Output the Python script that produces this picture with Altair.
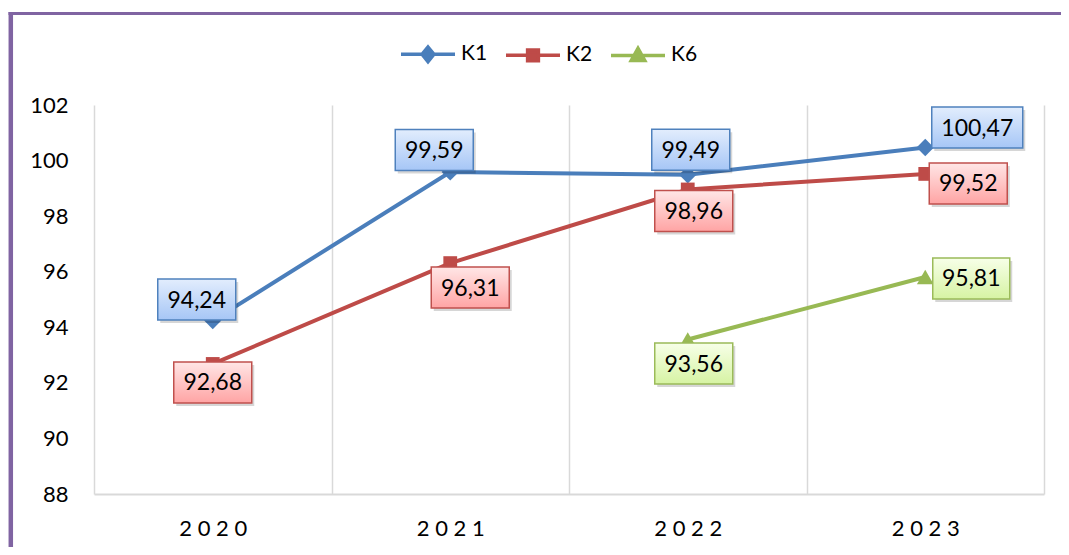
import altair as alt
import pandas as pd

# ---------------- data ----------------
years = ["2020", "2021", "2022", "2023"]
series_names = ["K1", "K2", "K6"]
k1_values = [94.24, 99.59, 99.49, 100.47]
k2_values = [92.68, 96.31, 98.96, 99.52]
k6_values = [None, None, 93.56, 95.81]
y_ticks = [88, 90, 92, 94, 96, 98, 100, 102]

# ---------------- styles ----------------
FONT = "Lato"
line_colors = ["#4A7EBB", "#BE4B48", "#98B954"]
marker_shapes = {"K1": ("diamond", 300), "K2": ("square", 190), "K6": ("triangle-up", 280)}
box_styles = {
    "K1": dict(stroke="#4F81BD", top="#E2EDFD", bottom="#A6C6F6"),
    "K2": dict(stroke="#C0504D", top="#FFE6E6", bottom="#FFA4A4"),
    "K6": dict(stroke="#9BBB59", top="#F7FFE8", bottom="#D6F3A3"),
}
# label box placement relative to its point: (dx, dy, box width)
label_place = {
    ("K1", "2020"): (-16, -21, 78),
    ("K1", "2021"): (-16, -22, 78),
    ("K1", "2022"): (3, -25, 78),
    ("K1", "2023"): (52, -20, 91),
    ("K2", "2020"): (0, 18.5, 78),
    ("K2", "2021"): (20, 24.5, 78),
    ("K2", "2022"): (6, 21.5, 78),
    ("K2", "2023"): (43, 9.5, 78),
    ("K6", "2022"): (6, 24, 78),
    ("K6", "2023"): (46, 1.5, 77),
}
BOX_H = 41

legend_paths = [
    "M-1,0H1M0,-0.27L0.22,0L0,0.27L-0.22,0Z",
    "M-1,0H1M-0.2,-0.2H0.2V0.2H-0.2Z",
    "M-1,0H1M0,-0.26L0.25,0.19H-0.25Z",
]

rows = []
for name, vals in zip(series_names, [k1_values, k2_values, k6_values]):
    for yr, v in zip(years, vals):
        if v is not None:
            rows.append({"series": name, "year": yr, "value": v,
                         "label": f"{v:.2f}".replace(".", ",")})
df = pd.DataFrame(rows)
legend_df = pd.DataFrame({"series": series_names})

x_enc = alt.X(
    "year:O",
    bandPosition=0.5,
    scale=alt.Scale(type="band", domain=years, paddingInner=0, paddingOuter=0),
    axis=alt.Axis(
        title=None, tickBand="extent", grid=True, gridColor="#D9D9D9", gridWidth=1.5,
        ticks=False, domainColor="#D9D9D9", domainWidth=2, labelAngle=0,
        labelFont=FONT, labelFontSize=22, labelColor="#000000", labelPadding=24,
        labelExpr="join(split(datum.label, ''), ' ')",
    ),
)
y_enc = alt.Y(
    "value:Q",
    scale=alt.Scale(domain=[88, 102], nice=False, zero=False),
    axis=alt.Axis(
        title=None, values=y_ticks, domain=False, ticks=False, grid=False,
        labelFont=FONT, labelFontSize=22, labelColor="#000000", labelPadding=26,
    ),
)

base = alt.Chart(df)
layers = []

# chart frame (decorative border)
frame_df = pd.DataFrame({"f": [0]})
layers.append(alt.Chart(frame_df).mark_rule(color="#8064A2", strokeWidth=3).encode(
    x=alt.value(-85.5), x2=alt.value(980), y=alt.value(-91.4)))
layers.append(alt.Chart(frame_df).mark_rule(color="#8064A2", strokeWidth=4.5).encode(
    x=alt.value(-83.2), y=alt.value(-93), y2=alt.value(460)))

# lines and markers, one series at a time
for name, col in zip(series_names, line_colors):
    s = base.transform_filter(alt.datum.series == name)
    layers.append(s.mark_line(strokeWidth=4, color=col).encode(x=x_enc, y=y_enc))
for name, col in zip(series_names, line_colors):
    shp, sz = marker_shapes[name]
    s = base.transform_filter(alt.datum.series == name)
    layers.append(s.mark_point(shape=shp, size=sz, filled=True, opacity=1, color=col)
                  .encode(x=x_enc, y=y_enc))

# legend source layer (its points sit outside the canvas)
leg_props = dict(
    orient="none", legendX=305, legendY=-80, direction="horizontal",
    symbolSize=2916, symbolStrokeWidth=3.5, symbolOpacity=1,
    labelFont=FONT, labelFontSize=21, labelColor="#000000",
    labelOffset=4, columnPadding=11, padding=0,
)
layers.append(
    alt.Chart(legend_df)
    .mark_point(filled=True, opacity=1)
    .encode(
        x=alt.value(-3000), y=alt.value(-3000),
        fill=alt.Fill("series:N", title=None, scale=alt.Scale(domain=series_names, range=line_colors),
                      legend=alt.Legend(**leg_props)),
        stroke=alt.Stroke("series:N", title=None, scale=alt.Scale(domain=series_names, range=line_colors),
                          legend=alt.Legend(**leg_props)),
        shape=alt.Shape("series:N", title=None, scale=alt.Scale(domain=series_names, range=legend_paths),
                        legend=alt.Legend(**leg_props)),
    )
)

# data labels in boxes
def box_path(w, h):
    return f"M{-w/2},{-h/2}H{w/2}V{h/2}H{-w/2}Z"

for (name, yr), (dx, dy, w) in label_place.items():
    st = box_styles[name]
    sub = base.transform_filter((alt.datum.series == name) & (alt.datum.year == yr))
    path = box_path(w, BOX_H)
    layers.append(sub.mark_point(shape=path, size=4, filled=True, fill="#000000", opacity=0.16,
                                 strokeWidth=0, xOffset=dx + 2.5, yOffset=dy + 3).encode(x=x_enc, y=y_enc))
    grad = {"gradient": "linear", "x1": 0, "y1": 0, "x2": 0, "y2": 1,
            "stops": [{"offset": 0, "color": st["top"]}, {"offset": 1, "color": st["bottom"]}]}
    layers.append(sub.mark_point(shape=path, size=4, filled=True, fill=grad, stroke=st["stroke"],
                                 strokeWidth=1.5, opacity=1, xOffset=dx, yOffset=dy).encode(x=x_enc, y=y_enc))
    layers.append(sub.mark_text(font=FONT, fontSize=23, color="#000000", align="center",
                                baseline="middle", dx=dx, dy=dy + 1).encode(x=x_enc, y=y_enc, text="label:N"))

chart = (
    alt.layer(*layers)
    .properties(
        width=950, height=389,
        autosize=alt.AutoSizeParams(type="none"),
        padding={"left": 86, "top": 97, "right": 17, "bottom": 53},
    )
    .configure(font=FONT)
    .configure_view(stroke=None)
)

chart.save("out.html", embed_options={"renderer": "svg", "actions": False})
